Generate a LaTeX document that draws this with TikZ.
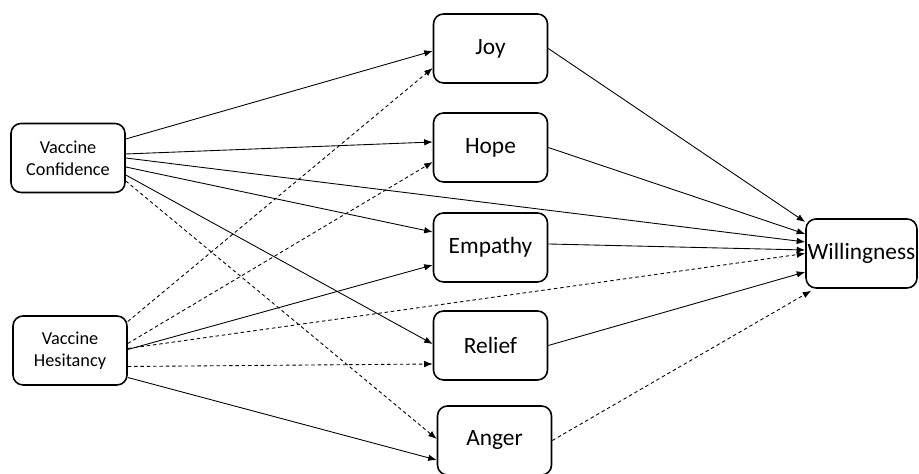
\documentclass[tikz,border=0pt]{standalone}
\usepackage{fontspec}
\setmainfont{Carlito}
\usepackage{tikz}
\usetikzlibrary{arrows.meta, calc}

\begin{document}
\begin{tikzpicture}[
    box/.style={draw, line width=0.9pt, rounded corners=0.2cm, inner sep=0pt,
        minimum width=2.28cm, minimum height=1.38cm, align=center},
    small/.style={font=\fontsize{10.4}{12.5}\selectfont},
    big/.style={font=\fontsize{13.3}{16}\selectfont},
    posarr/.style={line width=0.5pt, -{Latex[length=1.7mm, width=1.3mm]}},
    negarr/.style={posarr, dash pattern=on 2pt off 1.6pt}
]
    \useasboundingbox (0,0) rectangle (18.38,9.48);

    % Predittori
    \node[box, small] (vc) at (1.36,6.32) {Vaccine\\Confidence};
    \node[box, small] (vh) at (1.40,2.47) {Vaccine\\Hesitancy};

    % Emozioni
    \node[box, big] (joy) at (9.81,8.51) {Joy};
    \node[box, big] (hope) at (9.81,6.53) {Hope};
    \node[box, big] (emp) at (9.81,4.53) {Empathy};
    \node[box, big] (rel) at (9.81,2.57) {Relief};
    \node[box, big] (ang) at (9.89,0.67) {Anger};

    % Esito
    \node[box, big, minimum width=2.22cm] (will) at (17.23,4.41) {Willingness};

    % Frecce da Vaccine Confidence
    \draw[posarr] ([yshift=0.38cm]vc.east) -- ([yshift=-0.05cm]joy.west);
    \draw[posarr] ([yshift=0.08cm]vc.east) -- ([yshift=0.11cm]hope.west);
    \draw[posarr] (vc.east) -- ([yshift=0.23cm]will.west);
    \draw[posarr] ([yshift=-0.18cm]vc.east) -- ([yshift=0.31cm]emp.west);
    \draw[posarr] ([yshift=-0.34cm]vc.east) -- ([yshift=0.03cm]rel.west);
    \draw[negarr] ([yshift=-0.46cm]vc.east) -- ([yshift=0.03cm]ang.west);

    % Frecce da Vaccine Hesitancy
    \draw[negarr] ([yshift=0.58cm]vh.east) -- ([yshift=-0.39cm]joy.west);
    \draw[negarr] ([yshift=0.14cm]vh.east) -- ([yshift=-0.29cm]hope.west);
    \draw[posarr] ([yshift=0.02cm]vh.east) -- ([yshift=-0.35cm]emp.west);
    \draw[negarr] ([yshift=0.04cm]vh.east) -- (will.west);
    \draw[negarr] ([yshift=-0.32cm]vh.east) -- ([yshift=-0.37cm]rel.west);
    \draw[posarr] ([yshift=-0.54cm]vh.east) -- ([yshift=-0.39cm]ang.west);

    % Frecce verso Willingness
    \draw[posarr] (joy.east) -- ([yshift=0.63cm]will.west);
    \draw[posarr] (hope.east) -- ([yshift=0.39cm]will.west);
    \draw[posarr] ([yshift=0.07cm]emp.east) -- ([yshift=0.07cm]will.west);
    \draw[posarr] (rel.east) -- ([yshift=-0.37cm]will.west);
    \draw[negarr] (ang.east) -- ([xshift=0.12cm, yshift=-0.04cm]will.south west);
\end{tikzpicture}
\end{document}
